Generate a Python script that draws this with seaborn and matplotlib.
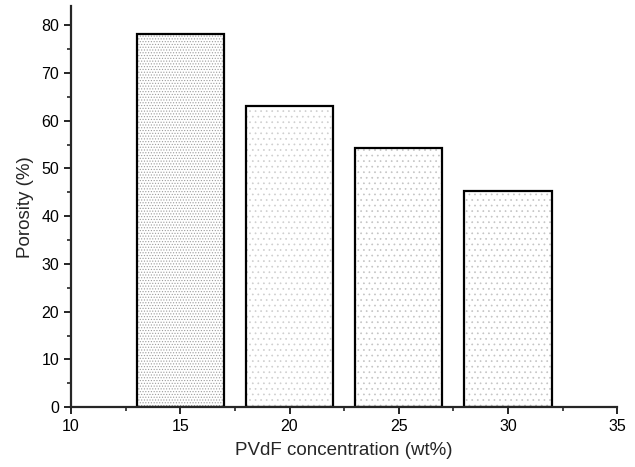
import matplotlib
matplotlib.use('Agg')
import matplotlib.pyplot as plt
import seaborn as sns
from matplotlib.ticker import MultipleLocator

conc = [15, 20, 25, 30]
porosity = [78.1, 63.0, 54.2, 45.2]
hatches = ['......', '...', '...', '...']
dot_colors = ['#9c9c9c', '#cfcfcf', '#c4c4c4', '#c4c4c4']

sns.set_style('ticks')
plt.rcParams['font.family'] = ['Liberation Sans', 'DejaVu Sans']
plt.rcParams['hatch.linewidth'] = 0.5

fig = plt.figure(figsize=(6.35, 4.67), dpi=100)
ax = fig.add_axes([0.112, 0.128, 0.86, 0.859])

# stippled fill first, then black outlines on top
sns.barplot(x=conc, y=porosity, native_scale=True, width=0.8, color='white',
            saturation=1, errorbar=None, ax=ax)
for p, h, c in zip(ax.patches, hatches, dot_colors):
    p.set_hatch(h)
    p.set_edgecolor(c)
    p.set_linewidth(0)
sns.barplot(x=conc, y=porosity, native_scale=True, width=0.8, color='black',
            fill=False, errorbar=None, linewidth=1.6, ax=ax)

ax.set_xlim(10, 35)
ax.set_ylim(0, 84)
ax.xaxis.set_major_locator(MultipleLocator(5))
ax.xaxis.set_minor_locator(MultipleLocator(2.5))
ax.yaxis.set_major_locator(MultipleLocator(10))
ax.yaxis.set_minor_locator(MultipleLocator(5))
ax.tick_params(which='major', length=5, width=1.2, labelsize=11.5, colors='black')
ax.tick_params(which='minor', length=3, width=1.2)
for s in ['left', 'bottom']:
    ax.spines[s].set_linewidth(1.6)
sns.despine(ax=ax)

ax.set_xlabel('PVdF concentration (wt%)', fontsize=13.5, labelpad=6)
ax.set_ylabel('Porosity (%)', fontsize=13.5, labelpad=5)

fig.savefig('out.png', dpi=100)
